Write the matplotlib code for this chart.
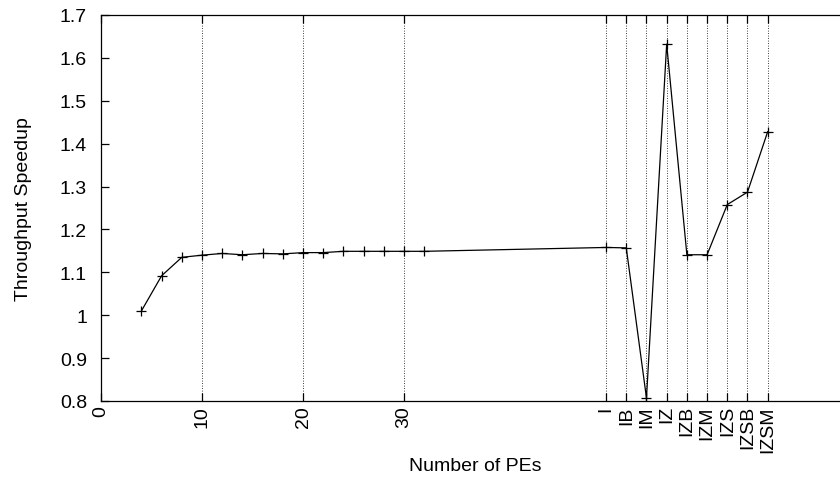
import matplotlib
matplotlib.use("Agg")
import matplotlib.pyplot as plt

plt.rcParams['font.family'] = ['Liberation Sans', 'DejaVu Sans']

# number of PEs part
pe_counts = [4, 6, 8, 10, 12, 14, 16, 18, 20, 22, 24, 26, 28, 30, 32]
pe_speedup = [1.01, 1.092, 1.135, 1.140, 1.144, 1.141, 1.144, 1.143, 1.146,
              1.146, 1.149, 1.149, 1.149, 1.149, 1.149]

# configuration part
config_labels = ['I', 'IB', 'IM', 'IZ', 'IZB', 'IZM', 'IZS', 'IZSB', 'IZSM']
config_pos = [50, 52, 54, 56, 58, 60, 62, 64, 66]
config_speedup = [1.158, 1.157, 0.807, 1.632, 1.141, 1.141, 1.258, 1.287, 1.428]

num_ticks = [0, 10, 20, 30]
y_ticks = [0.8, 0.9, 1, 1.1, 1.2, 1.3, 1.4, 1.5, 1.6, 1.7]
y_labels = ['0.8', '0.9', '1', '1.1', '1.2', '1.3', '1.4', '1.5', '1.6', '1.7']

W, H = 840, 481
fig = plt.figure(figsize=(W / 100, H / 100), dpi=100)
ax = fig.add_axes([101 / W, 79 / H, 747.5 / W, 386 / H])

xs = pe_counts + config_pos
ys = pe_speedup + config_speedup
ax.plot(xs, ys, color='black', linewidth=0.9, marker='+', markersize=7,
        markeredgewidth=0.9)

ax.set_xlim(0, 74)
ax.set_ylim(0.8, 1.7)

ax.set_xticks(num_ticks + config_pos)
ax.set_xticklabels([str(t) for t in num_ticks] + config_labels,
                   rotation=90, fontsize=14)
ax.set_yticks(y_ticks)
ax.set_yticklabels(y_labels, fontsize=14)

# dotted gridlines only on the x ticks (not at 0)
for xg in num_ticks[1:] + config_pos:
    ax.axvline(xg, color='black', linestyle=(0, (1, 2)), linewidth=0.6, zorder=0)

ax.tick_params(direction='in', length=6, width=0.9, top=True, right=True)
ax.tick_params(axis='x', pad=3)
ax.tick_params(axis='y', pad=10)
for sp in ax.spines.values():
    sp.set_linewidth(0.9)

fig.text(24 / W, 1 - 209 / H, 'Throughput Speedup', rotation=90,
         ha='center', va='center', fontsize=14)
fig.text(475 / W, 1 - 467 / H, 'Number of PEs', ha='center', va='center',
         fontsize=14)

fig.savefig('out.png', dpi=100)
